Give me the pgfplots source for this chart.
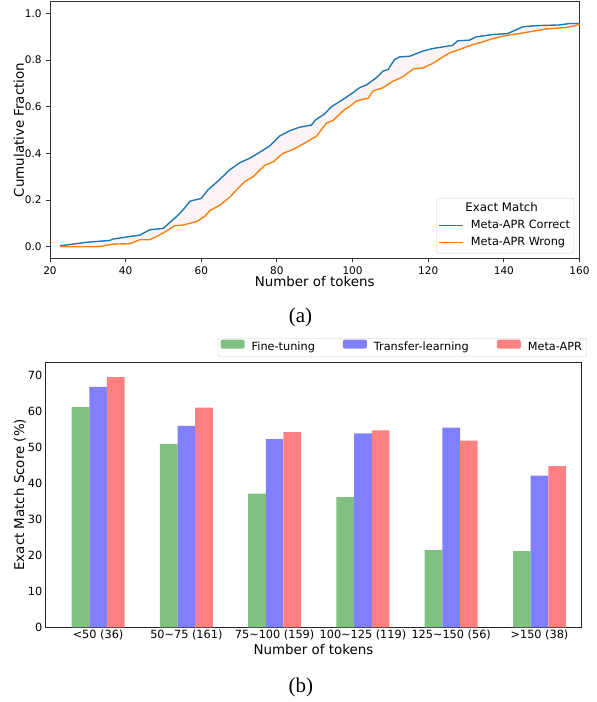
\documentclass[border=0pt]{standalone}
\usepackage{fontspec}
\setmainfont{DejaVu Sans}
\newfontfamily\capfont{Liberation Serif}
\usepackage{pgfplots}
\pgfplotsset{compat=1.18}
\usepgfplotslibrary{fillbetween}

\definecolor{tabblue}{HTML}{1F77B4}
\definecolor{taborange}{HTML}{FF7F0E}
\definecolor{cgreen}{RGB}{128,192,128}
\definecolor{cblue}{RGB}{128,128,255}
\definecolor{cred}{RGB}{255,128,128}
\definecolor{fillpink}{RGB}{252,244,244}
\definecolor{spine}{RGB}{50,50,50}

\newcommand\tickfont{\fontsize{11.3}{13}\selectfont}
\newcommand\tickfontA{\fontsize{10.5}{12}\selectfont}
\newcommand\labfont{\fontsize{13.4}{16}\selectfont}

\begin{document}
\begin{tikzpicture}
\path (0pt,0pt) rectangle (597pt,702pt);

% ---------------- (a) ----------------
\begin{axis}[
  at={(50pt,443.6pt)}, anchor=south west,
  width=529.5pt, height=256.8pt, scale only axis,
  xmin=20, xmax=160, ymin=-0.05, ymax=1.05,
  xtick={20,40,60,80,100,120,140,160},
  ytick={0,0.2,0.4,0.6,0.8,1},
  xtick pos=left, ytick pos=left,
  tick align=outside, major tick length=3.7pt,
  tick style={spine, line width=0.9pt},
  axis line style={spine, line width=1pt},
  /pgf/number format/assume math mode=true,
  yticklabel style={font=\tickfontA, anchor=east, inner sep=0pt, xshift=-4.5pt,
    /pgf/number format/fixed, /pgf/number format/precision=1,
    /pgf/number format/fixed zerofill},
  xticklabel style={font=\tickfontA, anchor=base, inner sep=0pt, yshift=-12.7pt},
  xlabel={Number of tokens},
  ylabel={Cumulative Fraction},
  xlabel style={font=\labfont, at={(axis description cs:0.5,-0.1105)}, anchor=base, inner sep=0pt},
  ylabel style={font=\labfont, at={(axis description cs:-0.0491,0.5)}, anchor=base, inner sep=0pt},
  legend style={at={(0.990,0.0199)}, anchor=south east,
    draw=black!20, rounded corners=2pt, fill=white, fill opacity=0.8, text opacity=1,
    font=\tickfont, inner xsep=1.5pt, inner ysep=2.7pt, row sep=0.5pt, column sep=4.3pt,
    nodes={inner sep=2.5pt, text height=8.5pt, text depth=2.7pt}},
  legend cell align=left,
  legend image code/.code={\draw[#1, line width=1.4pt] (0pt,0pt) -- (24.7pt,0pt);},
]
\addlegendimage{empty legend}
\addlegendentry{\hspace*{-5.5pt}{\fontsize{11.8}{13}\selectfont Exact Match}}

\addplot[name path=correct, tabblue, line width=1.4pt] coordinates {
(22.6,0.004) (29.7,0.019) (35.8,0.027) (36.7,0.033) (43.8,0.05) (46.4,0.073)
(49.9,0.078) (53.5,0.13) (55.2,0.158) (57.0,0.195) (60.0,0.207) (61.8,0.244)
(64.0,0.275) (67.5,0.329) (70.2,0.36) (72.8,0.379) (75.0,0.40) (78.1,0.432)
(80.7,0.474) (83.4,0.497) (86.0,0.512) (89.1,0.521) (90.2,0.543) (92.6,0.569)
(94.4,0.60) (97.5,0.631) (100.1,0.66) (101.9,0.682) (103.6,0.692) (106.3,0.724)
(108.0,0.752) (109.4,0.759) (111.1,0.802) (112.4,0.813) (115.1,0.816) (118.6,0.838)
(121.2,0.849) (123.9,0.856) (126.5,0.863) (127.8,0.882) (130.9,0.885) (132.7,0.899)
(137.1,0.909) (141.0,0.913) (145.0,0.942) (148.5,0.947) (154.7,0.95) (157.3,0.956)
(160,0.956)};
\addlegendentry{Meta-APR Correct}

\addplot[name path=wrong, taborange, line width=1.4pt] coordinates {
(22.6,0.0) (32.8,0.0) (36.7,0.011) (41.1,0.013) (43.8,0.03) (46.4,0.03)
(49.9,0.058) (53.0,0.09) (55.2,0.093) (58.7,0.107) (60.9,0.13) (62.3,0.155)
(64.9,0.178) (67.5,0.212) (70.2,0.258) (71.5,0.279) (73.7,0.30) (76.8,0.349)
(79.0,0.363) (81.6,0.40) (84.3,0.417) (86.9,0.44) (88.7,0.457) (90.4,0.472)
(93.1,0.53) (94.8,0.54) (97.9,0.588) (99.2,0.60) (101.0,0.624) (102.8,0.632)
(104.1,0.635) (105.4,0.667) (108.0,0.681) (110.7,0.709) (113.3,0.728) (116.0,0.761)
(118.6,0.766) (121.2,0.785) (123.9,0.813) (125.6,0.83) (128.3,0.845) (131.8,0.866)
(134.4,0.877) (137.1,0.892) (140.6,0.905) (144.1,0.913) (147.6,0.923) (151.2,0.933)
(156.5,0.939) (160,0.952)};
\addlegendentry{Meta-APR Wrong}

\addplot[fillpink, draw=none] fill between[of=correct and wrong];
\end{axis}

\node[font=\capfont\fontsize{21}{24}\selectfont, inner sep=0pt] at (300.5pt,384.7pt) {(a)};

% ---------------- (b) ----------------
\begin{axis}[
  at={(46pt,74.7pt)}, anchor=south west,
  width=535pt, height=265pt, scale only axis,
  xmin=-0.59, xmax=5.47, ymin=0, ymax=73.5,
  xtick={0,1,2,3,4,5},
  xticklabels={{<50 (36)},{50\textasciitilde 75 (161)},{75\textasciitilde 100 (159)},{100\textasciitilde 125 (119)},{125\textasciitilde 150 (56)},{>150 (38)}},
  ytick={0,10,20,30,40,50,60,70},
  major tick length=0pt,
  axis line style={black!85, line width=1pt},
  /pgf/number format/assume math mode=true,
  yticklabel style={font=\tickfont, anchor=east, inner sep=0pt, xshift=-3.5pt},
  xticklabel style={font=\tickfont, anchor=base, inner sep=0pt, yshift=-11.2pt},
  xlabel={Number of tokens},
  ylabel={Exact Match Score (\%)},
  xlabel style={font=\labfont, at={(axis description cs:0.5,-0.1034)}, anchor=base, inner sep=0pt},
  ylabel style={font=\labfont, at={(axis description cs:-0.0411,0.5)}, anchor=base, inner sep=0pt},
  legend columns=3,
  legend style={at={(1.0112,1.021)}, anchor=south east,
    draw=black!20, rounded corners=2pt, fill=white,
    font=\tickfont, inner xsep=2.7pt, inner ysep=1.5pt, column sep=5pt,
    nodes={inner sep=2pt, text height=8.5pt, text depth=2.7pt}},
  legend image code/.code={\fill[#1] (0pt,-1.3pt) rectangle (24pt,7.7pt);},
]
\addplot[ybar, bar width=0.2, bar shift=0pt, fill=cgreen, draw=none]
  coordinates {(-0.2,61.1) (0.8,50.9) (1.8,37.1) (2.8,36.1) (3.8,21.4) (4.8,21.1)};
\addlegendentry{Fine-tuning\hspace*{21pt}}
\addplot[ybar, bar width=0.2, bar shift=0pt, fill=cblue, draw=none]
  coordinates {(0,66.7) (1,55.9) (2,52.2) (3,53.8) (4,55.4) (5,42.1)};
\addlegendentry{Transfer-learning\hspace*{21pt}}
\addplot[ybar, bar width=0.2, bar shift=0pt, fill=cred, draw=none]
  coordinates {(0.2,69.4) (1.2,60.9) (2.2,54.1) (3.2,54.6) (4.2,51.8) (5.2,44.7)};
\addlegendentry{Meta-APR}
\end{axis}

\node[font=\capfont\fontsize{21}{24}\selectfont, inner sep=0pt] at (300.8pt,14.7pt) {(b)};
\end{tikzpicture}
\end{document}
